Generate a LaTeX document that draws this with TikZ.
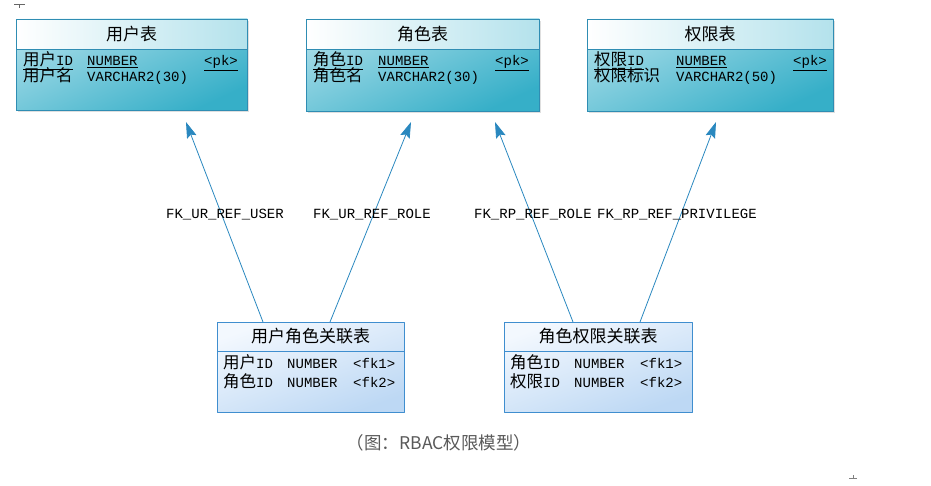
\documentclass[tikz,border=0pt]{standalone}
\usepackage{fontspec}
\setmainfont{Liberation Mono}
\newfontfamily\cjk{Noto Sans CJK SC}
\usetikzlibrary{arrows.meta,shadows}
\definecolor{tbline}{HTML}{2F8DB3}
\definecolor{tbtop}{HTML}{A6DCE8}
\definecolor{tbbot}{HTML}{36AFC8}
\definecolor{tbhead}{HTML}{B4E2EC}
\definecolor{lnline}{HTML}{3F8ECF}
\definecolor{lntop}{HTML}{F3F8FE}
\definecolor{lnbot}{HTML}{BDD8F4}
\definecolor{fkline}{HTML}{2A88BF}
\newcommand\zh[1]{{\cjk\fontsize{16.5}{17}\selectfont #1}}
\tikzset{
	toptable/.style={draw=tbline, line width=0.9pt, anchor=north west, inner sep=0pt, outer sep=0pt,
		top color=tbtop, bottom color=tbbot, shading angle=25,
		drop shadow={shadow xshift=2pt, shadow yshift=-2pt, opacity=0.25}},
	linktable/.style={draw=lnline, line width=0.9pt, anchor=north west, inner sep=0pt, outer sep=0pt,
		top color=lntop, bottom color=lnbot, shading angle=20},
	title/.style={inner sep=0pt, font=\cjk\fontsize{17}{19}\selectfont},
	cell/.style={inner sep=0pt, anchor=base west, font=\fontsize{14}{16}\selectfont},
	fklabel/.style={inner sep=1pt, font=\fontsize{14}{16}\selectfont},
	fk/.style={draw=fkline, line width=0.8pt, -{Stealth[length=16pt, width=10pt, inset=2.5pt]}}
}
\begin{document}
\begin{tikzpicture}[x=1pt, y=-1pt, line join=round]
		\useasboundingbox (0,0) rectangle (931,486);
		% tables
		\node[toptable, minimum width=231pt, minimum height=91pt] (user) at (16,19) {};
		\node[toptable, minimum width=233pt, minimum height=92pt] (role) at (306,19) {};
		\node[toptable, minimum width=246pt, minimum height=92pt] (priv) at (587,19) {};
		\node[linktable, minimum width=187pt, minimum height=90pt] (ur) at (217,322) {};
		\node[linktable, minimum width=188pt, minimum height=90pt] (rp) at (504,322) {};
		% headers
		\foreach \t in {user,role,priv}{
			\shade[left color=white, right color=tbhead] (\t.north west) rectangle ([yshift=-30pt]\t.north east);
			\draw[tbline, line width=0.9pt] (\t.north west) rectangle (\t.south east)
				([yshift=-30pt]\t.north west) -- ([yshift=-30pt]\t.north east);
		}
		\foreach \t in {ur,rp}{
			\draw[lnline, line width=0.9pt] ([yshift=-29pt]\t.north west) -- ([yshift=-29pt]\t.north east);
		}
		\node[title] (userT) at ([yshift=-15pt]user.north) {用户表};
		\node[title] (roleT) at ([yshift=-15pt]role.north) {角色表};
		\node[title] (privT) at ([yshift=-15pt]priv.north) {权限表};
		\node[title] (urT) at ([yshift=-14pt]ur.north) {用户角色关联表};
		\node[title] (rpT) at ([yshift=-14pt]rp.north) {角色权限关联表};
		% rows
		\node[cell] (user1) at (23,66) {\underline{\zh{用户}ID}};
		\node[cell] (user1t) at (87,66) {\underline{NUMBER}};
		\node[cell] (user1k) at (204,66) {\underline{<pk>}};
		\node[cell] (user2) at (23,82) {\zh{用户名}};
		\node[cell] (user2t) at (87,82) {VARCHAR2(30)};
		\node[cell] (role1) at (313,66) {\underline{\zh{角色}ID}};
		\node[cell] (role1t) at (378,66) {\underline{NUMBER}};
		\node[cell] (role1k) at (495,66) {\underline{<pk>}};
		\node[cell] (role2) at (313,82) {\zh{角色名}};
		\node[cell] (role2t) at (378,82) {VARCHAR2(30)};
		\node[cell] (priv1) at (594,66) {\underline{\zh{权限}ID}};
		\node[cell] (priv1t) at (676,66) {\underline{NUMBER}};
		\node[cell] (priv1k) at (793,66) {\underline{<pk>}};
		\node[cell] (priv2) at (594,82) {\zh{权限标识}};
		\node[cell] (priv2t) at (676,82) {VARCHAR2(50)};
		\node[cell] (ur1) at (223,368) {\zh{用户}ID};
		\node[cell] (ur1t) at (287,368) {NUMBER};
		\node[cell] (ur1k) at (353,368) {<fk1>};
		\node[cell] (ur2) at (223,387) {\zh{角色}ID};
		\node[cell] (ur2t) at (287,387) {NUMBER};
		\node[cell] (ur2k) at (353,387) {<fk2>};
		\node[cell] (rp1) at (510,368) {\zh{角色}ID};
		\node[cell] (rp1t) at (574,368) {NUMBER};
		\node[cell] (rp1k) at (640,368) {<fk1>};
		\node[cell] (rp2) at (510,387) {\zh{权限}ID};
		\node[cell] (rp2t) at (574,387) {NUMBER};
		\node[cell] (rp2k) at (640,387) {<fk2>};
		% references
		\path
			([xshift=46pt]ur.north west) coordinate (A)
			([xshift=113pt]ur.north west) coordinate (B)
			([xshift=69pt]rp.north west) coordinate (C)
			([xshift=136pt]rp.north west) coordinate (D)
			(186,122) coordinate (Au)
			(411,122) coordinate (Br)
			(495,122) coordinate (Cr)
			(716,122) coordinate (Dp)
		;
		\draw[fk] (A)--(Au);
		\draw[fk] (B)--(Br);
		\draw[fk] (C)--(Cr);
		\draw[fk] (D)--(Dp);
		\node[fklabel] (fkA) at (225,215) {FK\_UR\_REF\_USER};
		\node[fklabel] (fkB) at (372,215) {FK\_UR\_REF\_ROLE};
		\node[fklabel] (fkC) at (533,215) {FK\_RP\_REF\_ROLE};
		\node[fklabel] (fkD) at (677,215) {FK\_RP\_REF\_PRIVILEGE};
		\node[text=black!65, font=\cjk\fontsize{17.5}{19}\selectfont] (caption) at (439,443) {（图：RBAC权限模型）};
		% stray marks
		\draw[black!60, line width=1pt] (14,5)--(25,5) (19.5,5)--(19.5,8);
		\draw[black!50, line width=1pt] (849,478)--(857,478) (853,478)--(853,475);
		\end{tikzpicture}
\end{document}
